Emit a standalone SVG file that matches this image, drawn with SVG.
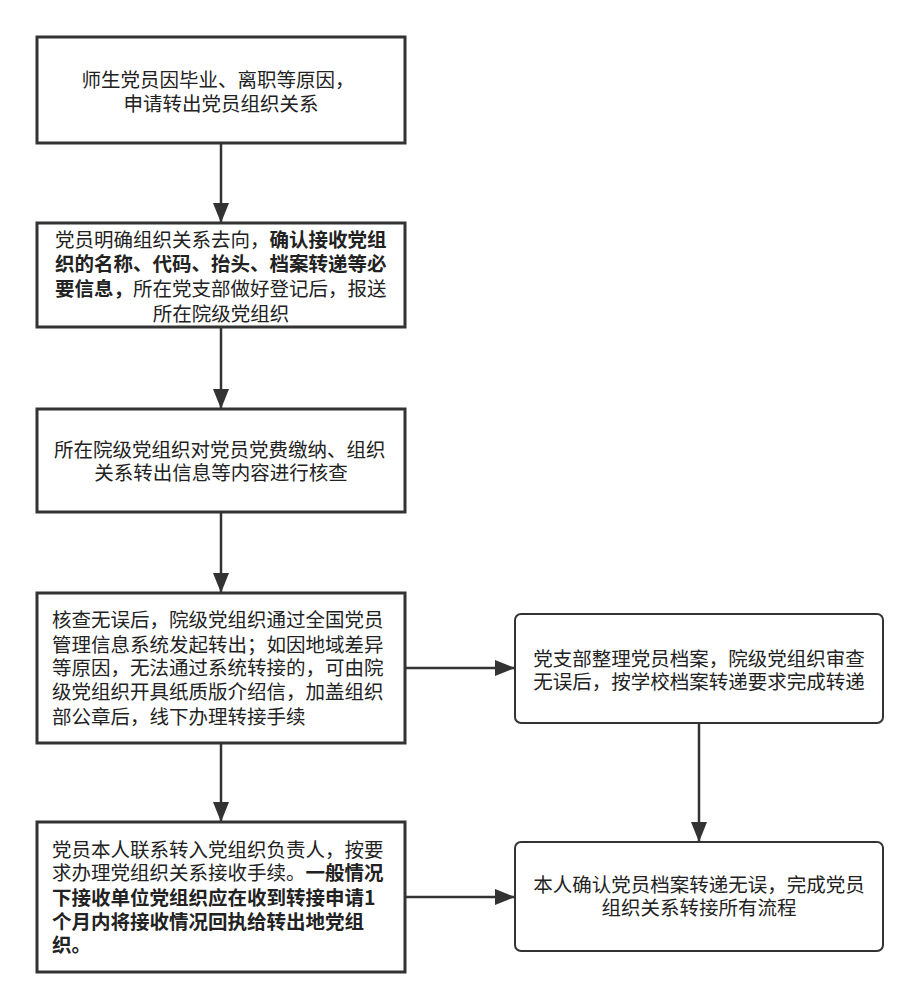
<svg xmlns="http://www.w3.org/2000/svg" width="920" height="1008" viewBox="0 0 920 1008">
<style>
.box{fill:#ffffff;stroke:#333333;stroke-width:3}
.rbox{fill:#ffffff;stroke:#333333;stroke-width:2}
.t{font-family:"Noto Sans CJK SC","Noto Sans",sans-serif;font-size:19.5px;fill:#222222}
.c{text-anchor:middle}
.b{font-weight:bold}
.ln{stroke:#333333;stroke-width:2.5;fill:none;marker-end:url(#ah)}
</style>
<defs>
<marker id="ah" markerUnits="userSpaceOnUse" markerWidth="20" markerHeight="16" refX="20" refY="8" orient="auto">
<path d="M0,0 L20,8 L0,16 z" fill="#333333"/>
</marker>
</defs>
<rect width="920" height="1008" fill="#ffffff"/>
<g id="connectors">
<line class="ln" x1="221" y1="143" x2="221" y2="223"/>
<line class="ln" x1="221" y1="327" x2="221" y2="409"/>
<line class="ln" x1="221" y1="512" x2="221" y2="593"/>
<line class="ln" x1="221" y1="743" x2="221" y2="822"/>
<line class="ln" x1="405" y1="668" x2="515" y2="668"/>
<line class="ln" x1="699" y1="723" x2="699" y2="842"/>
<line class="ln" x1="405" y1="897" x2="515" y2="897"/>
</g>
<g id="n1">
<rect class="box" x="37" y="37" width="368" height="106"/>
<text class="t c" x="218" y="87">师生党员因毕业、离职等原因，</text>
<text class="t c" x="221" y="111">申请转出党员组织关系</text>
</g>
<g id="n2">
<rect class="box" x="37" y="223" width="368" height="104"/>
<text class="t" x="55" y="247">党员明确组织关系去向，<tspan class="b">确认接收党组</tspan></text>
<text class="t b" x="55" y="271">织的名称、代码、抬头、档案转递等必</text>
<text class="t" x="55" y="296"><tspan class="b">要信息，</tspan>所在党支部做好登记后，报送</text>
<text class="t c" x="221" y="321">所在院级党组织</text>
</g>
<g id="n3">
<rect class="box" x="37" y="409" width="368" height="103"/>
<text class="t" x="54" y="457">所在院级党组织对党员党费缴纳、组织</text>
<text class="t c" x="221" y="480">关系转出信息等内容进行核查</text>
</g>
<g id="n4">
<rect class="box" x="37" y="593" width="368" height="150"/>
<text class="t" x="52" y="627">核查无误后，院级党组织通过全国党员</text>
<text class="t" x="52" y="652">管理信息系统发起转出；如因地域差异</text>
<text class="t" x="52" y="675">等原因，无法通过系统转接的，可由院</text>
<text class="t" x="52" y="699">级党组织开具纸质版介绍信，加盖组织</text>
<text class="t" x="52" y="724">部公章后，线下办理转接手续</text>
</g>
<g id="n5">
<rect class="box" x="37" y="822" width="368" height="150"/>
<text class="t" x="52" y="857">党员本人联系转入党组织负责人，按要</text>
<text class="t" x="52" y="880">求办理党组织关系接收手续。<tspan class="b">一般情况</tspan></text>
<text class="t b" x="52" y="905">下接收单位党组织应在收到转接申请1</text>
<text class="t b" x="52" y="929">个月内将接收情况回执给转出地党组</text>
<text class="t b" x="52" y="952">织。</text>
</g>
<g id="n6">
<rect class="rbox" x="515" y="614" width="368" height="109" rx="6" ry="6"/>
<text class="t c" x="699" y="666">党支部整理党员档案，院级党组织审查</text>
<text class="t c" x="699" y="689">无误后，按学校档案转递要求完成转递</text>
</g>
<g id="n7">
<rect class="rbox" x="515" y="842" width="368" height="109" rx="6" ry="6"/>
<text class="t c" x="699" y="892">本人确认党员档案转递无误，完成党员</text>
<text class="t c" x="699" y="915">组织关系转接所有流程</text>
</g>
</svg>
